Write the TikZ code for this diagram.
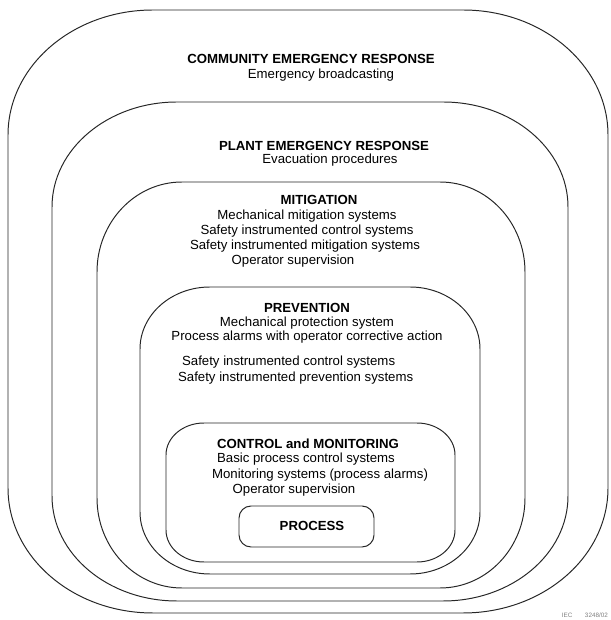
\documentclass[tikz,border=0pt]{standalone}
\usepackage{fontspec}
\setmainfont{Liberation Sans}
\usetikzlibrary{positioning}
\tikzset{
  ringline/.style={line width=1.4pt,black!85},
  headtext/.style={anchor=base,inner sep=0pt,
    font=\fontsize{18.8}{21.3}\selectfont\bfseries},
  itemtext/.style={anchor=base,inner sep=0pt,
    font=\fontsize{18.8}{21.3}\selectfont},
  processbox/.style={draw,ringline,rounded corners=0.6cm,
    minimum width=6.75cm,minimum height=2.05cm}
}
% rounded rectangle with elliptic corners: x1,y1,x2,y2,rx,ry
\newcommand{\layerbox}[6]{%
  \draw[ringline] ({#1+#5},#4) -- ({#3-#5},#4)
    arc[start angle=90,end angle=0,x radius=#5,y radius=#6] -- (#3,{#2+#6})
    arc[start angle=0,end angle=-90,x radius=#5,y radius=#6] -- ({#1+#5},#2)
    arc[start angle=270,end angle=180,x radius=#5,y radius=#6] -- (#1,{#4-#6})
    arc[start angle=180,end angle=90,x radius=#5,y radius=#6] -- cycle;}
\begin{document}
\begin{tikzpicture}
  \useasboundingbox (0,0) rectangle (30.5,31);
  % nested layers
  \layerbox{0.40}{0.35}{30.40}{30.50}{7.25}{6.25}
  \layerbox{2.60}{0.95}{28.40}{25.90}{6.25}{5.25}
  \layerbox{4.85}{1.60}{26.25}{21.90}{4.25}{4.50}
  \layerbox{7.00}{2.30}{24.00}{16.65}{3.50}{3.10}
  \layerbox{8.30}{2.90}{22.75}{9.85}{1.90}{1.60}
  \node[processbox] (process) at (15.325,4.675) {};
  \node[headtext] (processlabel) at (15.60,4.45) {PROCESS};

  % community emergency response
  \node[headtext] (community) at (15.55,27.80) {COMMUNITY EMERGENCY RESPONSE};
  \node[itemtext] (broadcast) at (16.05,27.05) {Emergency broadcasting};

  % plant emergency response
  \node[headtext] (plant) at (16.20,23.45) {PLANT EMERGENCY RESPONSE};
  \node[itemtext] (evacuation) at (16.50,22.80) {Evacuation procedures};

  % mitigation
  \node[headtext] (mitigation) at (15.95,20.75) {MITIGATION};
  \node[itemtext] (mechmit) at (15.35,20.00) {Mechanical mitigation systems};
  \node[itemtext] (sicsmit) at (15.35,19.25) {Safety instrumented control systems};
  \node[itemtext] (simsmit) at (15.25,18.50) {Safety instrumented mitigation systems};
  \node[itemtext] (opermit) at (14.65,17.75) {Operator supervision};

  % prevention
  \node[headtext] (prevention) at (15.35,15.35) {PREVENTION};
  \node[itemtext] (mechprot) at (15.35,14.65) {Mechanical protection system};
  \node[itemtext] (alarmact) at (15.35,13.95) {Process alarms with operator corrective action};
  \node[itemtext,anchor=base west] (sicsprev) at (9.10,12.70) {Safety instrumented control systems};
  \node[itemtext,anchor=base west] (sipsprev) at (8.90,11.90) {Safety instrumented prevention systems};

  % control and monitoring
  \node[headtext] (control) at (15.40,8.55) {CONTROL and MONITORING};
  \node[itemtext] (bpcs) at (15.30,7.85) {Basic process control systems};
  \node[itemtext] (monitor) at (16.00,7.05) {Monitoring systems (process alarms)};
  \node[itemtext] (opercon) at (14.70,6.30) {Operator supervision};

  \node[anchor=base east,inner sep=0pt,font=\fontsize{9}{10}\selectfont,
    text=black!50] (iec) at (30.40,0.10) {IEC\qquad 3248/02};
\end{tikzpicture}
\end{document}
